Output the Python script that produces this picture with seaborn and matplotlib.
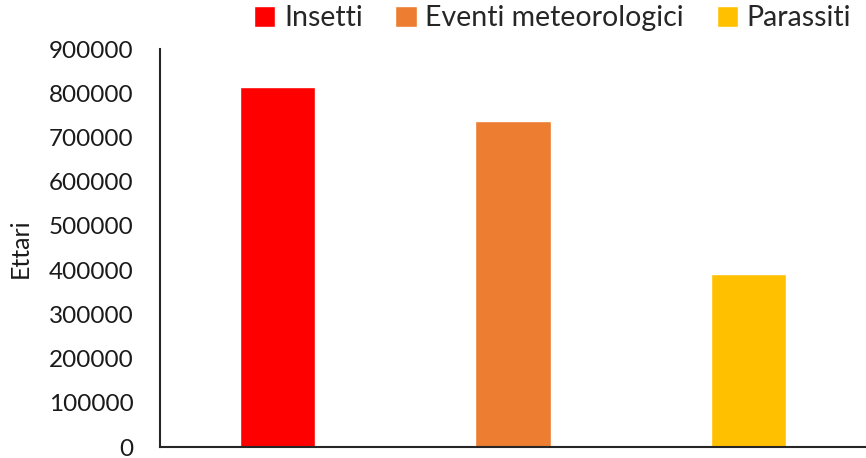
import matplotlib
matplotlib.use("Agg")
import matplotlib.pyplot as plt
import seaborn as sns
import pandas as pd

categories = ["Insetti", "Eventi meteorologici", "Parassiti"]
ettari = [815000, 738000, 392000]
colors = ["#FF0000", "#ED7D31", "#FFC000"]
yticks = [0, 100000, 200000, 300000, 400000, 500000, 600000, 700000, 800000, 900000]

sns.set_theme(style="white")
plt.rcParams["font.family"] = ["Lato", "DejaVu Sans"]

df = pd.DataFrame({"Causa": categories, "Ettari": ettari})

fig = plt.figure(figsize=(8.66, 4.58), dpi=100)
ax = fig.add_axes([160 / 866, 11 / 458, 706 / 866, 398 / 458])

sns.barplot(data=df, x="Causa", y="Ettari", hue="Causa", order=categories,
            hue_order=categories, palette=colors, width=0.32, dodge=False,
            saturation=1, legend=True, ax=ax)

ax.set_ylim(0, 900000)
ax.set_yticks(yticks)
ax.set_yticklabels([str(v) for v in yticks], fontsize=17.5, color="#1a1a1a")
ax.set_xticks([])
ax.set_xlabel("")
ax.set_ylabel("Ettari", fontsize=18, color="#1a1a1a", labelpad=12)
ax.tick_params(axis="y", length=0, pad=19)
ax.set_xlim(-0.5, 2.5)

for side in ["top", "right"]:
    ax.spines[side].set_visible(False)
for side in ["left", "bottom"]:
    ax.spines[side].set_color("#262626")
    ax.spines[side].set_linewidth(1.5)

handles, labels = ax.get_legend_handles_labels()
ax.get_legend().remove()
fig.legend(handles, labels, loc="upper center", bbox_to_anchor=(0.638, 1.045),
           ncol=3, frameon=False, fontsize=20.5, handlelength=0.75,
           handleheight=0.75, handletextpad=0.3, columnspacing=1.15)

fig.savefig("out.png", dpi=100)
